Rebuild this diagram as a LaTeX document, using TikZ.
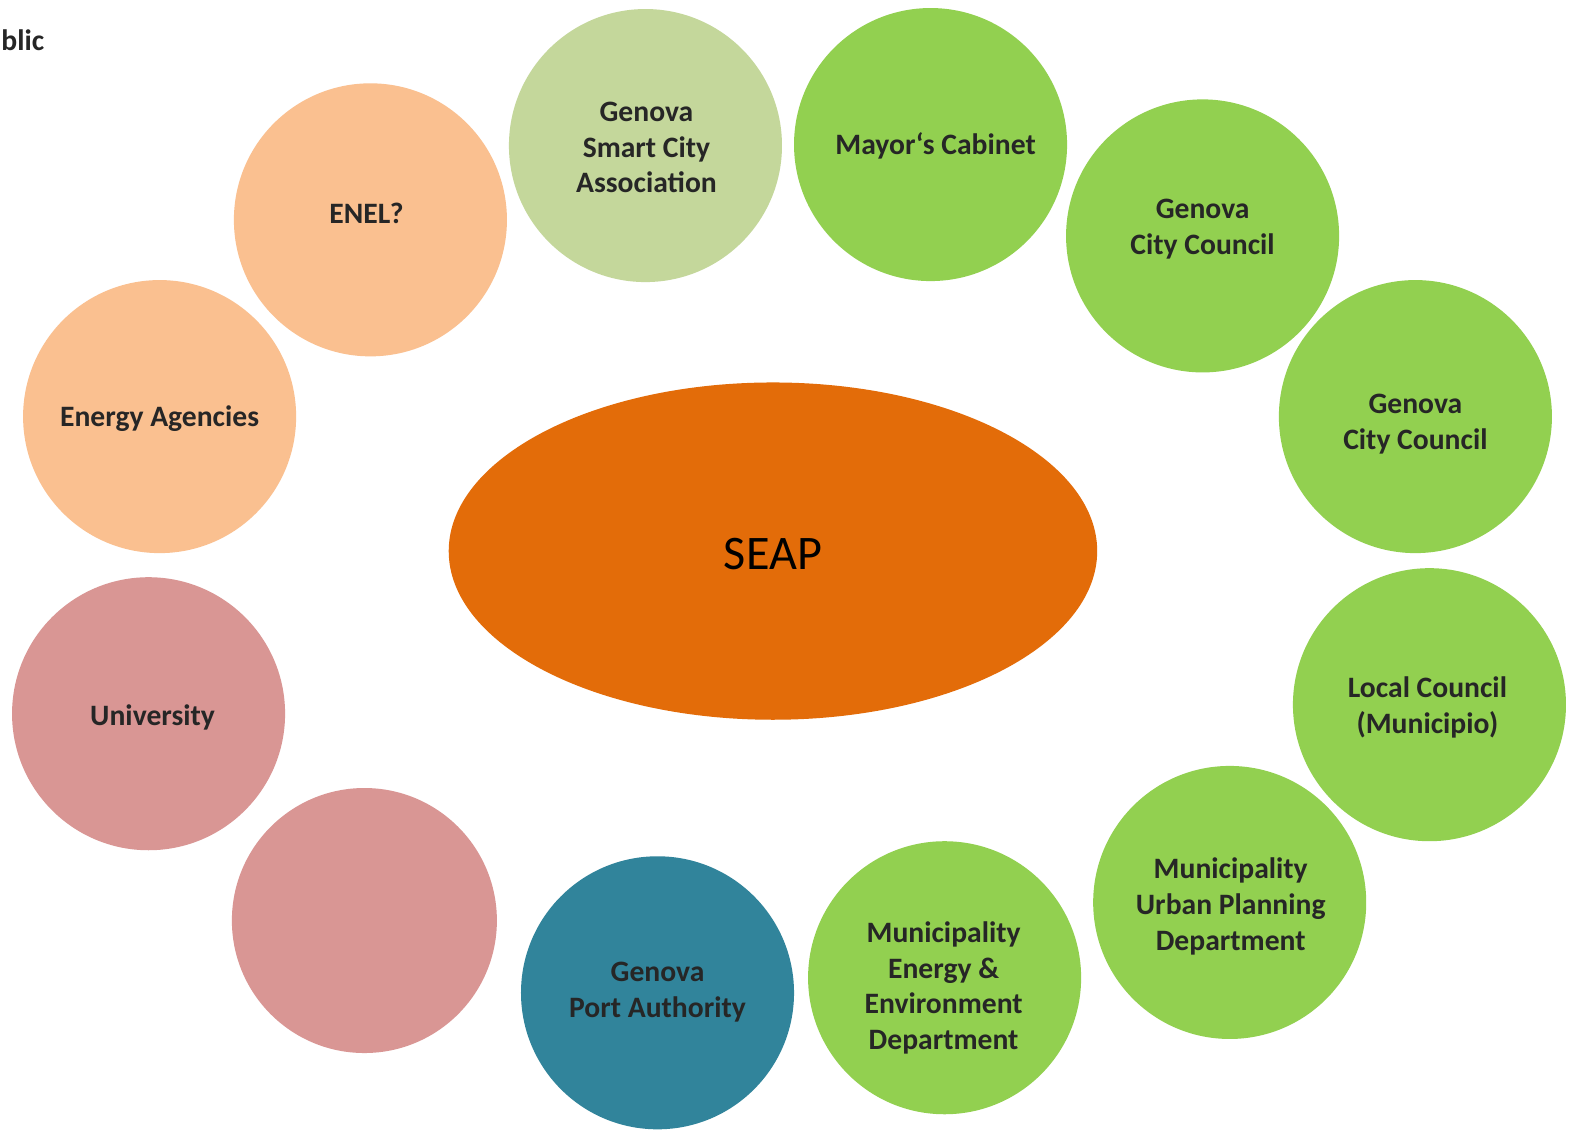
\documentclass[tikz,border=0pt]{standalone}
\usepackage{fontspec}
\setmainfont{Carlito}
\usetikzlibrary{shapes.geometric}
\definecolor{cLight}{HTML}{C4D79B}
\definecolor{cGreen}{HTML}{92D050}
\definecolor{cTeal}{HTML}{31849B}
\definecolor{cPink}{HTML}{D99694}
\definecolor{cPeach}{HTML}{FAC090}
\definecolor{cOrange}{HTML}{E36C09}
\definecolor{cText}{HTML}{262626}
\tikzset{
  bubble/.style={circle, inner sep=0pt, minimum size=136pt, draw=none},
  lbl/.style={align=center, text=cText, font=\fontsize{14.75}{17.75}\selectfont\bfseries, inner sep=0pt},
}
\begin{document}
\begin{tikzpicture}[x=0.5pt,y=-0.5pt]
\useasboundingbox (0,0) rectangle (1568,1125);
\fill[white] (0,0) rectangle (1568,1125);
% circles
\node[bubble, fill=cLight]  (smart)   at (643,145) {};
\node[bubble, fill=cGreen]  (mayor)   at (927,144) {};
\node[bubble, fill=cGreen]  (gcc1)    at (1198,235) {};
\node[bubble, fill=cGreen]  (gcc2)    at (1410,415) {};
\node[bubble, fill=cGreen]  (local)   at (1424,702) {};
\node[bubble, fill=cGreen]  (urban)   at (1225,899) {};
\node[bubble, fill=cGreen]  (energy)  at (941,974) {};
\node[bubble, fill=cTeal]   (port)    at (655,989) {};
\node[bubble, fill=cPink, minimum size=132pt] (empty) at (363,917) {};
\node[bubble, fill=cPink]   (uni)     at (148,711) {};
\node[bubble, fill=cPeach]  (agencies) at (159,415) {};
\node[bubble, fill=cPeach]  (enel)    at (369,219) {};
% central ellipse
\node[ellipse, fill=cOrange, inner sep=0pt, minimum width=323pt, minimum height=168pt] (seap) at (770,549) {};
\node[font=\fontsize{24}{29}\selectfont, text=black, inner sep=0pt] (seaptxt) at (770,552) {SEAP};
% labels
\node[lbl] (tsmart)  at (644,147) {Genova\\Smart City\\Association};
\node[lbl] (tmayor)  at (932,145) {Mayor‘s Cabinet};
\node[lbl] (tgcc1)   at (1198,228.5) {Genova\\City Council};
\node[lbl] (tgcc2)   at (1410,422.5) {Genova\\City Council};
\node[lbl] (tlocal)  at (1422,705) {Local Council\\(Municipio)};
\node[lbl] (turban)  at (1226,903) {Municipality\\Urban Planning\\Department};
\node[lbl] (tenergy) at (940,984) {Municipality\\Energy \&\\Environment\\Department};
\node[lbl] (tport)   at (655,988.5) {Genova\\Port Authority};
\node[lbl] (tuni)    at (152,715) {University};
\node[lbl] (tagen)   at (159,417) {Energy Agencies};
\node[lbl] (tenel)   at (365,213) {ENEL?};
\node[lbl, anchor=west] (tblic) at (1,40) {blic};
\end{tikzpicture}
\end{document}
